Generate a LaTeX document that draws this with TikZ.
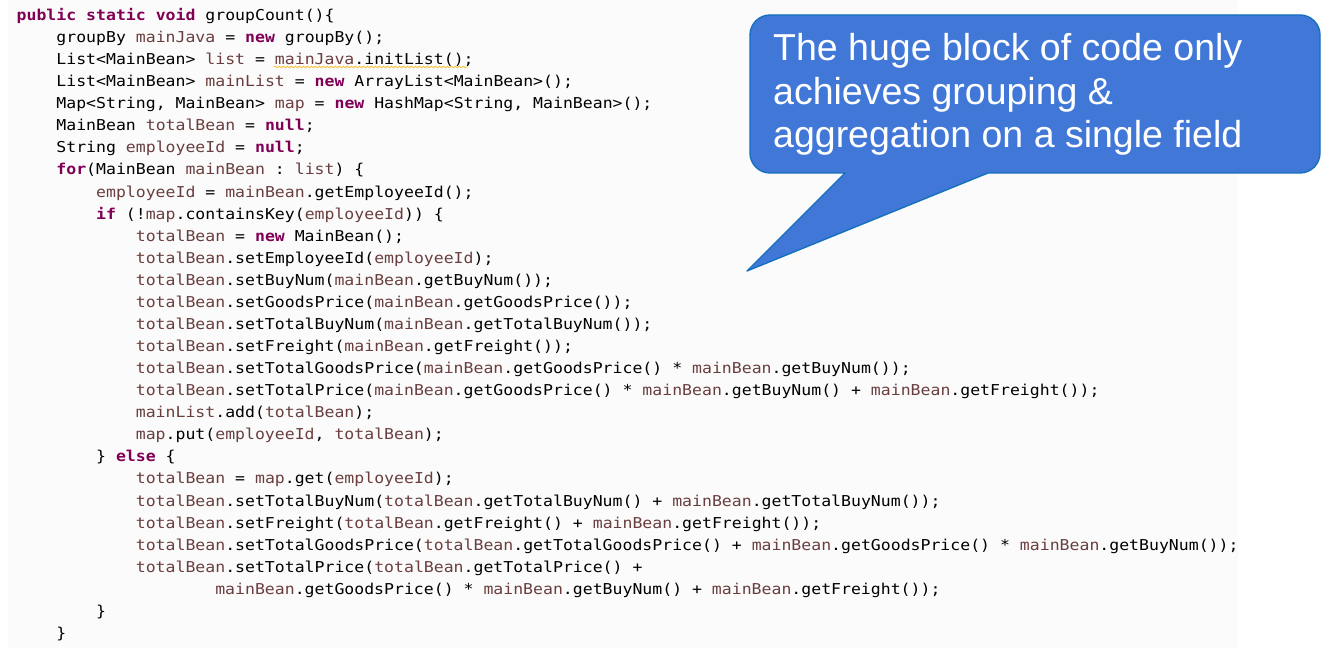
\documentclass[tikz,border=0pt]{standalone}
\usepackage{fontspec}
\usetikzlibrary{decorations.pathmorphing}
\newfontfamily\codefont{DejaVu Sans Mono}[FakeStretch=1.1]
\newfontfamily\calloutfont{Liberation Sans}
\definecolor{kwcol}{HTML}{7F0055}
\definecolor{lvcol}{HTML}{6A3E3E}
\definecolor{bubblefill}{HTML}{4178D8}
\definecolor{bubbleline}{HTML}{1570BE}
\definecolor{codebg}{HTML}{FBFBFB}
\definecolor{squigcol}{HTML}{F2C443}
\newcommand\kwd[1]{\textcolor{kwcol}{\bfseries #1}}
\newcommand\lvr[1]{\textcolor{lvcol}{#1}}
\newcommand\putline[3]{\node[codetext] (l#1) at ({16.5+#2*9.93},{660-20.5-22.07*#1}) {#3};}
\tikzset{
  codetext/.style={anchor=base west, inner sep=0pt, font=\codefont\fontsize{15}{18}\selectfont\frenchspacing, text=black},
  bubble/.style={fill=bubblefill, draw=bubbleline, line width=1.4pt, line join=round},
  bubbletext/.style={anchor=base west, inner sep=0pt, text=white, font=\calloutfont\fontsize{37.5}{43.5}\selectfont},
  squig/.style={draw=squigcol, line width=0.8pt, decorate, decoration={snake, amplitude=0.9pt, segment length=4pt}}
}
\begin{document}
\begin{tikzpicture}[x=1pt,y=1pt]
\useasboundingbox (0,0) rectangle (1322,660);
\fill[white] (0,0) rectangle (1322,660);
\fill[codebg] (8,12) rectangle (1238,660);
% code
\putline{0}{0}{\kwd{public} \kwd{static} \kwd{void} groupCount()\{}
\putline{1}{4}{groupBy \lvr{mainJava} = \kwd{new} groupBy();}
\putline{2}{4}{List<MainBean> \lvr{list} = \lvr{mainJava}.initList();}
\putline{3}{4}{List<MainBean> \lvr{mainList} = \kwd{new} ArrayList<MainBean>();}
\putline{4}{4}{Map<String, MainBean> \lvr{map} = \kwd{new} HashMap<String, MainBean>();}
\putline{5}{4}{MainBean \lvr{totalBean} = \kwd{null};}
\putline{6}{4}{String \lvr{employeeId} = \kwd{null};}
\putline{7}{4}{\kwd{for}(MainBean \lvr{mainBean} : \lvr{list}) \{}
\putline{8}{8}{\lvr{employeeId} = \lvr{mainBean}.getEmployeeId();}
\putline{9}{8}{\kwd{if} (!\lvr{map}.containsKey(\lvr{employeeId})) \{}
\putline{10}{12}{\lvr{totalBean} = \kwd{new} MainBean();}
\putline{11}{12}{\lvr{totalBean}.setEmployeeId(\lvr{employeeId});}
\putline{12}{12}{\lvr{totalBean}.setBuyNum(\lvr{mainBean}.getBuyNum());}
\putline{13}{12}{\lvr{totalBean}.setGoodsPrice(\lvr{mainBean}.getGoodsPrice());}
\putline{14}{12}{\lvr{totalBean}.setTotalBuyNum(\lvr{mainBean}.getTotalBuyNum());}
\putline{15}{12}{\lvr{totalBean}.setFreight(\lvr{mainBean}.getFreight());}
\putline{16}{12}{\lvr{totalBean}.setTotalGoodsPrice(\lvr{mainBean}.getGoodsPrice() * \lvr{mainBean}.getBuyNum());}
\putline{17}{12}{\lvr{totalBean}.setTotalPrice(\lvr{mainBean}.getGoodsPrice() * \lvr{mainBean}.getBuyNum() + \lvr{mainBean}.getFreight());}
\putline{18}{12}{\lvr{mainList}.add(\lvr{totalBean});}
\putline{19}{12}{\lvr{map}.put(\lvr{employeeId}, \lvr{totalBean});}
\putline{20}{8}{\} \kwd{else} \{}
\putline{21}{12}{\lvr{totalBean} = \lvr{map}.get(\lvr{employeeId});}
\putline{22}{12}{\lvr{totalBean}.setTotalBuyNum(\lvr{totalBean}.getTotalBuyNum() + \lvr{mainBean}.getTotalBuyNum());}
\putline{23}{12}{\lvr{totalBean}.setFreight(\lvr{totalBean}.getFreight() + \lvr{mainBean}.getFreight());}
\putline{24}{12}{\lvr{totalBean}.setTotalGoodsPrice(\lvr{totalBean}.getTotalGoodsPrice() + \lvr{mainBean}.getGoodsPrice() * \lvr{mainBean}.getBuyNum());}
\putline{25}{12}{\lvr{totalBean}.setTotalPrice(\lvr{totalBean}.getTotalPrice() +}
\putline{26}{20}{\lvr{mainBean}.getGoodsPrice() * \lvr{mainBean}.getBuyNum() + \lvr{mainBean}.getFreight());}
\putline{27}{8}{\}}
\putline{28}{4}{\}}
% warning squiggle
\coordinate (sqa) at (274,593);
\coordinate (sqb) at (467,593);
\draw[squig] (sqa) -- (sqb);
% callout
\draw[bubble] (845,487) -- (747,389) -- (988,487) -- (1300,487)
  arc[start angle=-90,end angle=0,radius=20] -- (1320,625)
  arc[start angle=0,end angle=90,radius=20] -- (770,645)
  arc[start angle=90,end angle=180,radius=20] -- (750,507)
  arc[start angle=180,end angle=270,radius=20] -- cycle;
\node[bubbletext] (c1) at (773,599.3) {The huge block of code only};
\node[bubbletext] (c2) at (773,555.8) {achieves grouping \&};
\node[bubbletext] (c3) at (773,512.3) {aggregation on a single field};
\end{tikzpicture}
\end{document}
